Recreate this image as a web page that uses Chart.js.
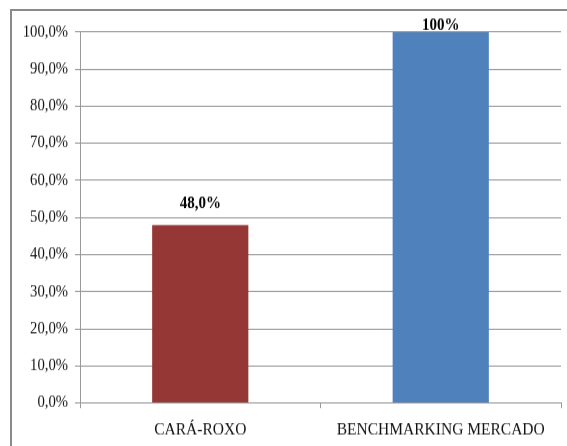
<!DOCTYPE html>
<html>
<head>
<meta charset="utf-8">
<script src="https://cdn.jsdelivr.net/npm/chart.js@4"></script>
<style>
  html, body { margin: 0; padding: 0; background: #fff; overflow: hidden; }
  #moldura {
    position: absolute; left: 10px; top: 9px;
    width: 600px; height: 480px;
    border-left: 2px solid #8a8a8a; border-top: 2px solid #8a8a8a;
  }
  /* o gráfico original foi esticado na vertical */
  #grafico {
    position: absolute; left: 0; top: 0;
    transform: scaleY(1.1495); transform-origin: 0 0;
  }
</style>
</head>
<body>
<div id="moldura"></div>
<canvas id="grafico" width="567" height="388"></canvas>
<script>
// Categorias e valores (%)
const categorias = ['CARÁ-ROXO', 'BENCHMARKING MERCADO'];
const valores = [48, 100];
const rotulos = ['48,0%', '100%'];
const cores = ['#953735', '#4F81BD'];

const fonte = "'Liberation Serif', 'Times New Roman', serif";

// Rótulos de valor acima de cada barra
const rotulosBarras = {
    id: 'rotulosBarras',
    afterDatasetsDraw(chart) {
        const ctx = chart.ctx;
        const meta = chart.getDatasetMeta(0);
        ctx.save();
        ctx.font = 'bold 15px ' + fonte;
        ctx.fillStyle = '#000';
        ctx.textAlign = 'center';
        ctx.textBaseline = 'middle';
        meta.data.forEach((barra, i) => {
            const y = Math.max(barra.y - 19, chart.chartArea.top - 6);
            ctx.fillText(rotulos[i], barra.x, y);
        });
        ctx.restore();
    }
};

const ctx = document.getElementById('grafico').getContext('2d');
const grafico = new Chart(ctx, {
    type: 'bar',
    data: {
        labels: categorias,
        datasets: [{
            data: valores,
            backgroundColor: cores,
            borderWidth: 0,
            barPercentage: 0.4,
            categoryPercentage: 1
        }]
    },
    options: {
        responsive: false,
        animation: false,
        layout: { padding: { left: 0, right: 6, top: 27.8, bottom: 0 } },
        plugins: {
            legend: { display: false },
            tooltip: { enabled: false }
        },
        scales: {
            y: {
                min: 0,
                max: 100,
                afterFit: (s) => { s.width = 80; },
                ticks: {
                    stepSize: 10,
                    padding: 7,
                    color: '#111',
                    font: { family: fonte, size: 14.7 },
                    callback: (v) => v.toFixed(1).replace('.', ',') + '%'
                },
                grid: { color: '#999', tickLength: 5 },
                border: { color: '#999' }
            },
            x: {
                afterFit: (s) => { s.height = 37.4; },
                ticks: {
                    padding: 10,
                    color: '#111',
                    font: { family: fonte, size: 15.5 }
                },
                grid: { offset: true, drawOnChartArea: false, color: '#999', tickLength: 4.4 },
                border: { color: '#999' }
            }
        }
    },
    plugins: [rotulosBarras]
});
</script>
</body>
</html>
